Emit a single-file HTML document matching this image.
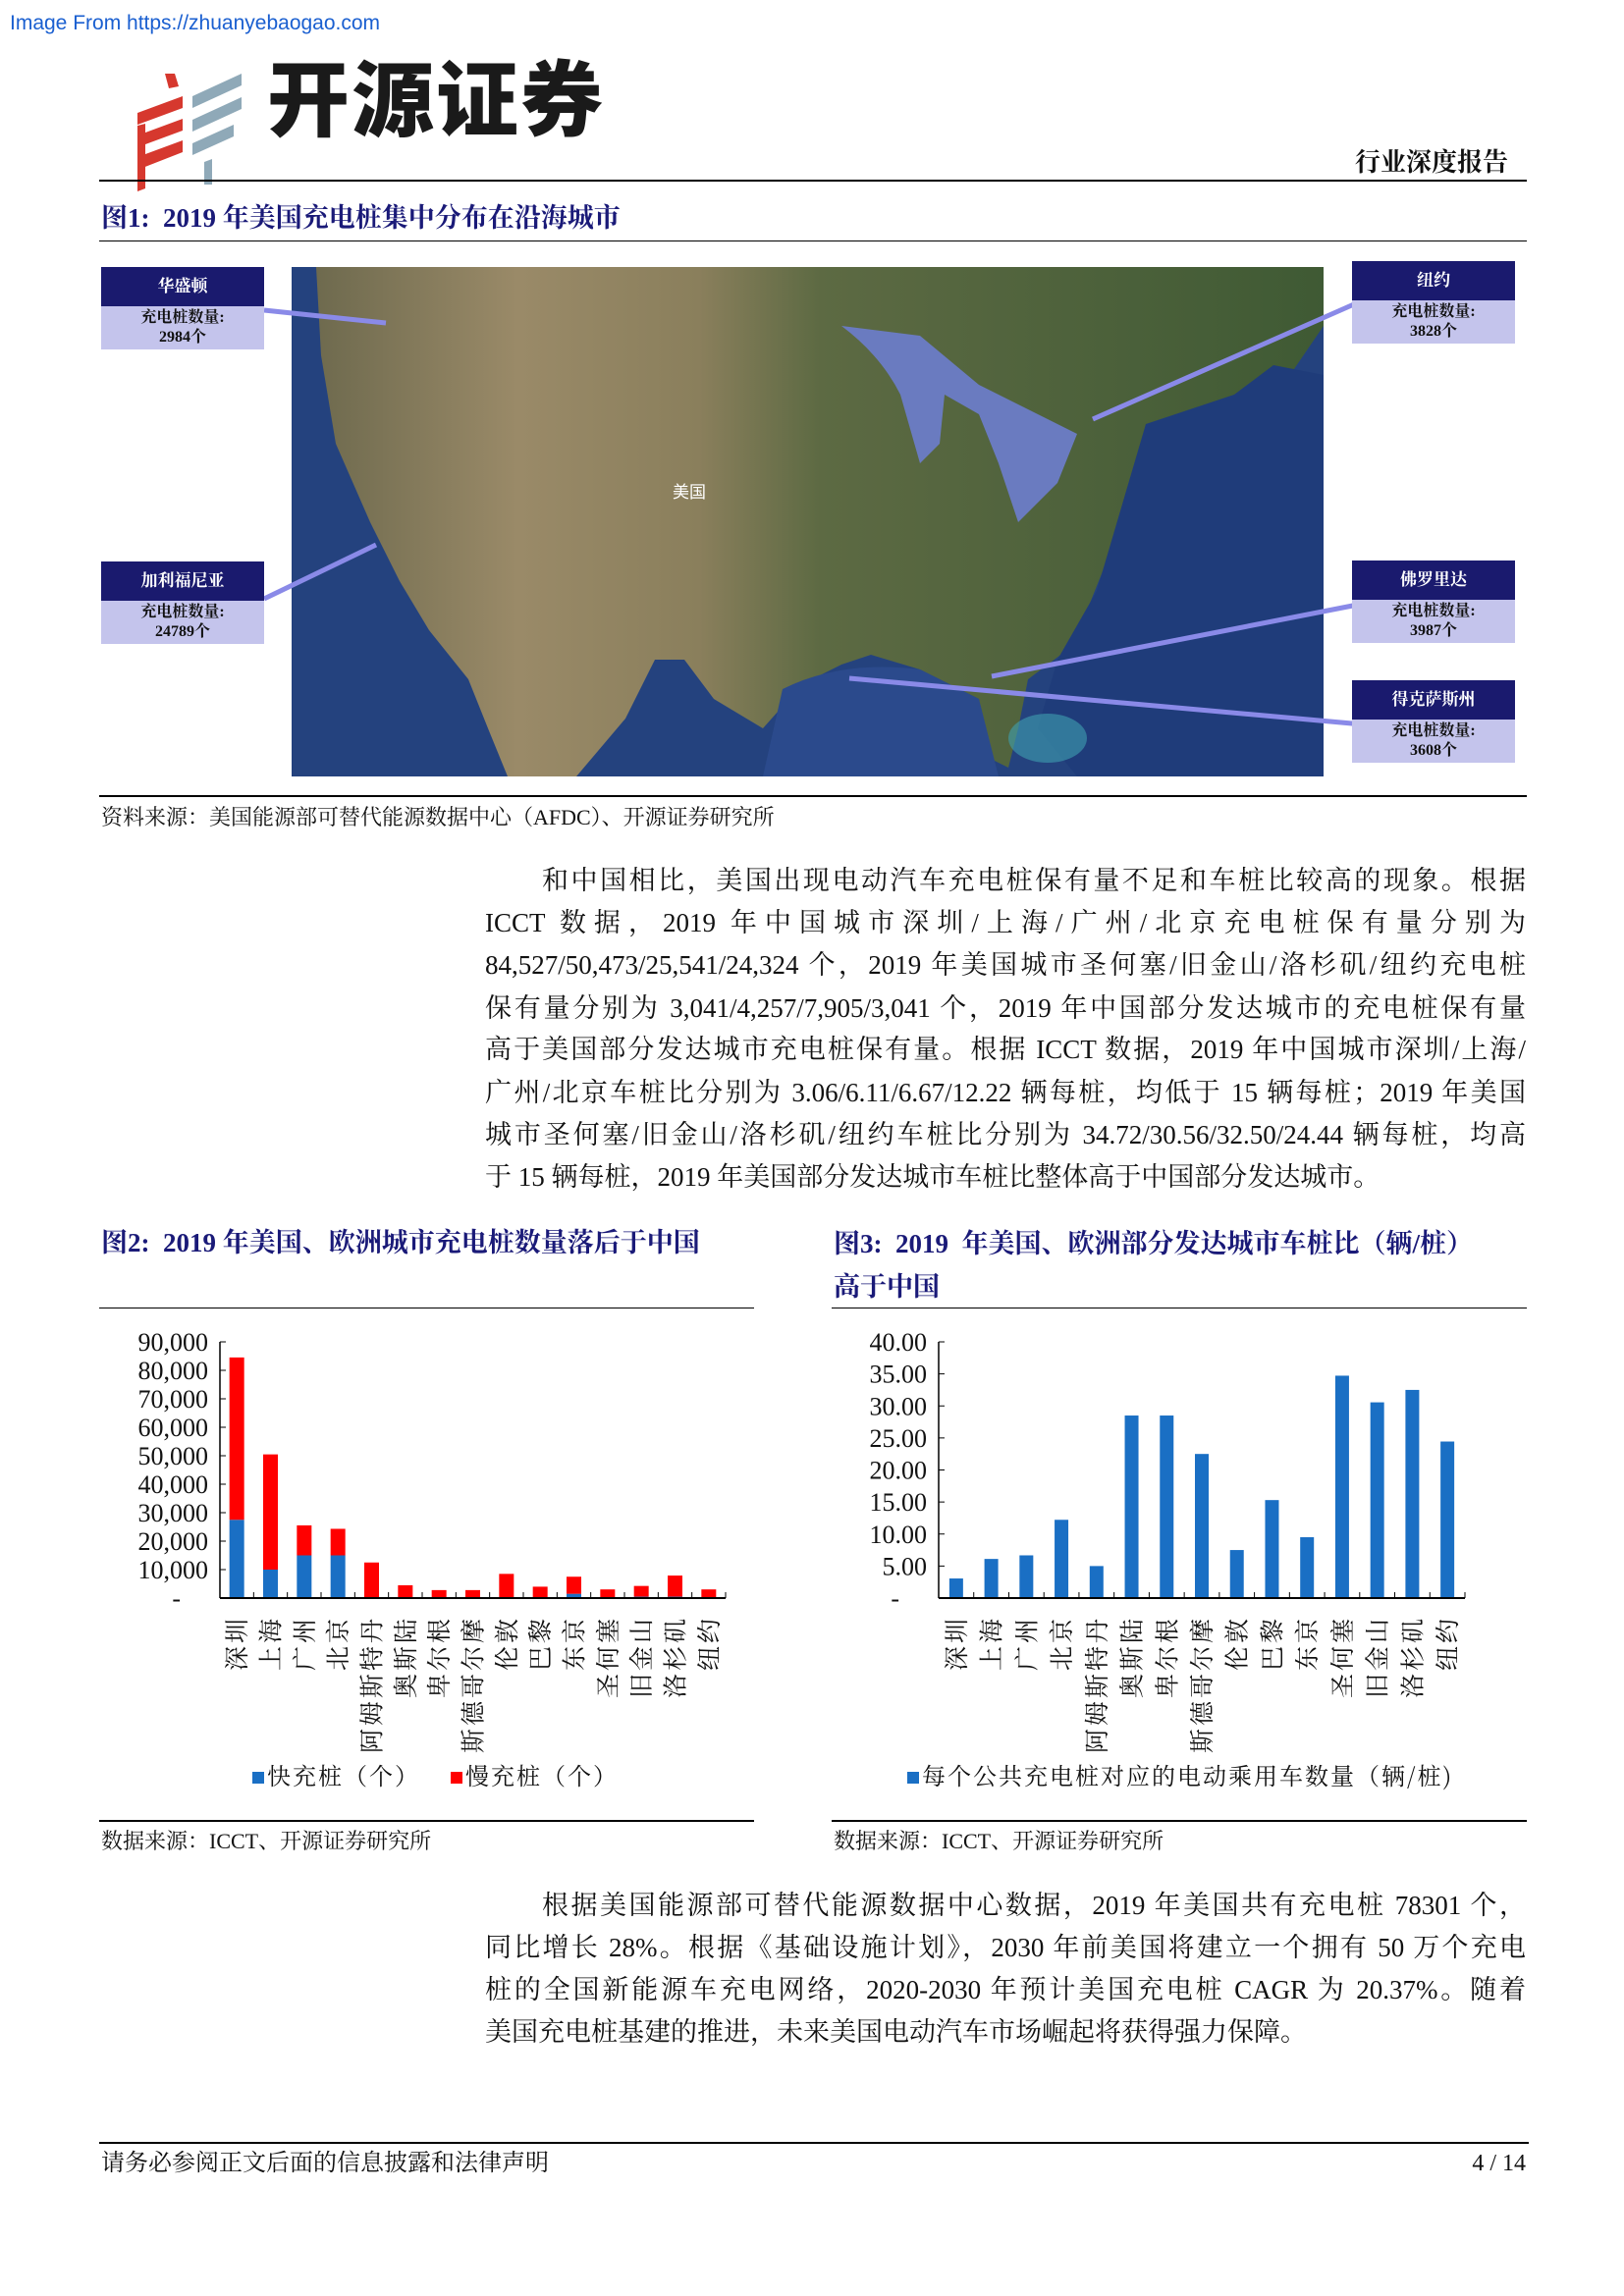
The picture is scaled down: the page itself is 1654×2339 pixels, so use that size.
<!DOCTYPE html>
<html><head><meta charset="utf-8">
<style>
html,body{margin:0;padding:0;background:#fff;}
body{width:1654px;height:2339px;position:relative;overflow:hidden;font-family:"Liberation Serif","Noto Serif CJK SC",serif;color:#111;}
.abs{position:absolute;}
.line{position:absolute;background:#000;}
.title{position:absolute;font-weight:bold;color:#1a1a78;font-size:27px;font-family:"Liberation Serif","Noto Serif CJK SC",serif;white-space:nowrap;line-height:1;}
.src{position:absolute;font-size:22px;white-space:nowrap;line-height:1;}
.pl{position:absolute;left:494px;width:1060px;font-size:27px;line-height:1;white-space:nowrap;text-align:justify;text-align-last:justify;}
.box{position:absolute;width:166px;}
.box .h{background:#1a1a6e;color:#fff;font-weight:bold;font-size:17px;text-align:center;height:40px;line-height:40px;}
.box .b{background:#c4c4ec;color:#111;font-weight:bold;font-size:16px;text-align:center;height:42px;line-height:20px;padding-top:2px;}
</style></head>
<body>
<div class="abs" style="left:10px;top:12px;font-family:'Liberation Sans',sans-serif;font-size:21px;color:#1a5fd0;">Image From https://zhuanyebaogao.com</div>

<svg class="abs" style="left:138px;top:70px" width="110" height="125" viewBox="0 0 110 125">
 <g fill="#d6382e"><polygon points="30,5 40,5 44,18 34,20"/><polygon points="2,45 48,28 48,40 2,57"/><polygon points="2,68 48,51 48,63 2,80"/><polygon points="2,90 48,73 48,85 2,103"/><polygon points="2,58 10,56 10,122 2,125"/></g>
 <g fill="#8fa9b8"><polygon points="58,28 108,5 108,17 58,40"/><polygon points="58,52 108,29 108,41 58,64"/><polygon points="58,76 100,57 100,69 58,88"/><polygon points="70,95 78,92 78,118 70,118"/></g>
</svg>
<div class="abs" style="left:272px;top:55px;font-family:'Noto Sans CJK SC',sans-serif;font-weight:900;font-size:84px;line-height:1;color:#1a1a1a;letter-spacing:2px;">开源证券</div>
<div class="abs" style="left:1380px;top:153px;font-size:26px;font-weight:bold;line-height:1;">行业深度报告</div>
<div class="line" style="left:101px;top:183px;width:1454px;height:2px;"></div>

<div class="title" style="left:103px;top:209px;">图1:&nbsp; 2019 年美国充电桩集中分布在沿海城市</div>
<div class="line" style="left:101px;top:245px;width:1454px;height:1px;"></div>

<svg class="abs" style="left:297px;top:272px" width="1051" height="519" viewBox="0 0 1051 519">
 <defs>
  <linearGradient id="land" x1="0" x2="1" y1="0" y2="0"><stop offset="0" stop-color="#6e6a4e"/><stop offset="0.2" stop-color="#9a8a68"/><stop offset="0.38" stop-color="#8a7f5c"/><stop offset="0.5" stop-color="#5d6a43"/><stop offset="1" stop-color="#3f5a34"/></linearGradient>
 </defs>
 <rect width="1051" height="519" fill="#24427e"/>
 <polygon fill="url(#land)" points="25,0 1051,0 1051,60 1010,120 900,170 860,220 830,300 810,350 790,390 750,420 740,470 730,510 710,500 700,440 640,410 590,395 560,405 520,425 480,470 430,440 400,400 370,400 340,460 290,519 220,519 200,470 180,420 140,370 110,320 80,260 45,180 30,90"/>
 <path d="M560,60 Q600,90 620,130 L640,200 L660,180 L665,130 L700,150 L720,200 L740,260 L780,220 L800,170 L760,150 L700,120 L640,70 Z" fill="#6a7bc0"/>
 <path d="M870,160 L960,130 L1000,100 L1051,110 L1051,519 L800,519 L760,470 L780,400 L820,330 Z" fill="#1f3c7a"/>
 <path d="M500,430 Q560,400 640,410 L700,440 L720,519 L480,519 Z" fill="#2b4a8c"/>
 <ellipse cx="770" cy="480" rx="40" ry="25" fill="#3fa0b0" opacity="0.6"/>
</svg>
<div class="abs" style="left:685px;top:487px;color:#fff;font-size:17px;font-family:'Noto Sans CJK SC',sans-serif;">美国</div>

<svg class="abs" style="left:0;top:0" width="1654" height="900">
 <g stroke="#8a8ae8" stroke-width="5" fill="none">
  <line x1="269" y1="316" x2="393" y2="329"/>
  <line x1="269" y1="610" x2="383" y2="555"/>
  <line x1="1388" y1="306" x2="1113" y2="427"/>
  <line x1="1388" y1="615" x2="1010" y2="689"/>
  <line x1="1388" y1="738" x2="865" y2="691"/>
 </g>
</svg>

<div class="box" style="left:103px;top:272px;"><div class="h">华盛顿</div><div class="b">充电桩数量:<br>2984个</div></div>
<div class="box" style="left:103px;top:572px;"><div class="h">加利福尼亚</div><div class="b">充电桩数量:<br>24789个</div></div>
<div class="box" style="left:1377px;top:266px;"><div class="h">纽约</div><div class="b">充电桩数量:<br>3828个</div></div>
<div class="box" style="left:1377px;top:571px;"><div class="h">佛罗里达</div><div class="b">充电桩数量:<br>3987个</div></div>
<div class="box" style="left:1377px;top:693px;"><div class="h">得克萨斯州</div><div class="b">充电桩数量:<br>3608个</div></div>

<div class="line" style="left:101px;top:810px;width:1454px;height:2px;"></div>
<div class="src" style="left:103px;top:822px;">资料来源：美国能源部可替代能源数据中心（AFDC）、开源证券研究所</div>

<div>
<div class="pl" style="top:884px;padding-left:58px;width:1002px;">和中国相比，美国出现电动汽车充电桩保有量不足和车桩比较高的现象。根据</div>
<div class="pl" style="top:927px;">ICCT 数据，2019 年中国城市深圳/上海/广州/北京充电桩保有量分别为</div>
<div class="pl" style="top:970px;">84,527/50,473/25,541/24,324 个，2019 年美国城市圣何塞/旧金山/洛杉矶/纽约充电桩</div>
<div class="pl" style="top:1014px;">保有量分别为 3,041/4,257/7,905/3,041 个，2019 年中国部分发达城市的充电桩保有量</div>
<div class="pl" style="top:1056px;">高于美国部分发达城市充电桩保有量。根据 ICCT 数据，2019 年中国城市深圳/上海/</div>
<div class="pl" style="top:1100px;">广州/北京车桩比分别为 3.06/6.11/6.67/12.22 辆每桩，均低于 15 辆每桩；2019 年美国</div>
<div class="pl" style="top:1143px;">城市圣何塞/旧金山/洛杉矶/纽约车桩比分别为 34.72/30.56/32.50/24.44 辆每桩，均高</div>
<div class="pl" style="top:1186px;text-align-last:left;">于 15 辆每桩，2019 年美国部分发达城市车桩比整体高于中国部分发达城市。</div>
</div>

<div class="title" style="left:103px;top:1253px;">图2:&nbsp; 2019 年美国、欧洲城市充电桩数量落后于中国</div>
<div class="title" style="left:849px;top:1245px;line-height:44px;">图3:&nbsp; 2019&nbsp; 年美国、欧洲部分发达城市车桩比（辆/桩）<br>高于中国</div>
<div class="line" style="left:101px;top:1332px;width:667px;height:1px;"></div>
<div class="line" style="left:847px;top:1332px;width:708px;height:1px;"></div>

<svg class="abs" id="chart1" style="left:0;top:1330px" width="800" height="520"></svg>
<svg class="abs" id="chart2" style="left:840px;top:1330px" width="740" height="520"></svg>

<div class="line" style="left:101px;top:1854px;width:667px;height:2px;"></div>
<div class="line" style="left:847px;top:1854px;width:708px;height:2px;"></div>
<div class="src" style="left:103px;top:1865px;">数据来源：ICCT、开源证券研究所</div>
<div class="src" style="left:849px;top:1865px;">数据来源：ICCT、开源证券研究所</div>

<div>
<div class="pl" style="top:1928px;padding-left:58px;width:1002px;">根据美国能源部可替代能源数据中心数据，2019 年美国共有充电桩 78301 个，</div>
<div class="pl" style="top:1971px;">同比增长 28%。根据《基础设施计划》，2030 年前美国将建立一个拥有 50 万个充电</div>
<div class="pl" style="top:2014px;">桩的全国新能源车充电网络，2020-2030 年预计美国充电桩 CAGR 为 20.37%。随着</div>
<div class="pl" style="top:2057px;text-align-last:left;">美国充电桩基建的推进，未来美国电动汽车市场崛起将获得强力保障。</div>
</div>

<div class="line" style="left:101px;top:2182px;width:1456px;height:2px;"></div>
<div class="abs" style="left:103px;top:2192px;font-size:24px;line-height:1;">请务必参阅正文后面的信息披露和法律声明</div>
<div class="abs" style="left:1470px;top:2192px;width:84px;text-align:right;font-size:24px;line-height:1;">4 / 14</div>

<script>
const cities = ["深圳","上海","广州","北京","阿姆斯特丹","奥斯陆","卑尔根","斯德哥尔摩","伦敦","巴黎","东京","圣何塞","旧金山","洛杉矶","纽约"];
const fastChargers = [27500,10000,15000,15000,0,0,0,0,0,0,1500,0,500,500,0];
const slowChargers = [57027,40473,10541,9324,12500,4500,2800,2800,8500,4000,6000,3041,3757,7405,3041];
const countTicks = ["-","10,000","20,000","30,000","40,000","50,000","60,000","70,000","80,000","90,000"];
const countTickValues = [0,10000,20000,30000,40000,50000,60000,70000,80000,90000];
const ratioValues = [3.06,6.11,6.67,12.22,5.0,28.5,28.5,22.5,7.5,15.3,9.5,34.72,30.56,32.5,24.44];
const ratioTicks = ["-","5.00","10.00","15.00","20.00","25.00","30.00","35.00","40.00"];
const ratioTickValues = [0,5,10,15,20,25,30,35,40];

const NS="http://www.w3.org/2000/svg";
function mk(parent,tag,attrs){const e=document.createElementNS(NS,tag);for(const k in attrs)e.setAttribute(k,attrs[k]);parent.appendChild(e);return e;}

function drawChart(svg,opt){
  const x0=opt.x0,x1=opt.x1,y0=opt.y0,yTop=opt.yTop,max=opt.max;
  const n=cities.length,bw=(x1-x0)/n;
  const ys=v=>y0-(v/max)*(y0-yTop);
  const xs=i=>x0+bw*i+bw/2;
  const ya=mk(svg,"line",{x1:x0,y1:yTop,x2:x0,y2:y0,stroke:"#000","stroke-width":1.5});
  
  
  opt.tickValues.forEach((v,i)=>{
    const t=mk(svg,"line",{x1:x0,y1:ys(v),x2:x0+6,y2:ys(v),stroke:"#000","stroke-width":1});
    
    
    const lb=mk(svg,"text",{x:x0-12,y:ys(v)+9,"text-anchor":"end","font-size":26,"font-family":"Liberation Serif,serif",fill:"#111"});
    lb.textContent=opt.ticks[i];
    
    
    if(i===0){lb.setAttribute("x",x0-40);}
  });
  for(let i=0;i<=n;i++){
    const t=mk(svg,"line",{x1:x0+bw*i,y1:y0,x2:x0+bw*i,y2:y0-6,stroke:"#000","stroke-width":1});
    
    
  }
  opt.series.forEach(s=>{
    s.values.forEach((v,i)=>{
      const base=s.base?s.base[i]:0;
      if(v<=0)return;
      const r=mk(svg,"rect",{x:xs(i)-opt.barW/2,y:ys(base+v),width:opt.barW,height:ys(base)-ys(base+v),fill:s.color});
      
      
    });
  });
  const xa=mk(svg,"line",{x1:x0,y1:y0,x2:x1,y2:y0,stroke:"#000","stroke-width":2});
  
  
  cities.forEach((c,i)=>{
    const cx=xs(i)+9, cy=y0+18;
    const g=mk(svg,"text",{x:cx,y:cy,"font-size":25,"letter-spacing":3,"font-family":"Noto Serif CJK SC,serif",fill:"#111","text-anchor":"end",transform:"rotate(-90 "+cx+" "+cy+")"});
    g.textContent=c;
    
    
  });
}

const c1=document.getElementById("chart1");
drawChart(c1,{x0:224,x1:739,y0:298,yTop:37,max:90000,barW:15,ticks:countTicks,tickValues:countTickValues,
  series:[{name:"fast",values:fastChargers,color:"#1a6fc4"},{name:"slow",values:slowChargers,base:fastChargers,color:"#ff0000"}]});
const c2=document.getElementById("chart2");
drawChart(c2,{x0:116,x1:652,y0:298,yTop:37,max:40,barW:14,ticks:ratioTicks,tickValues:ratioTickValues,
  series:[{name:"ratio",values:ratioValues,color:"#1a6fc4"}]});

function legend(svg,x,color,label){
  const r=mk(svg,"rect",{x:x,y:475,width:12,height:12,fill:color});
  
  
  const t=mk(svg,"text",{x:x+15,y:488,"font-size":24,"letter-spacing":2,"font-family":"Noto Serif CJK SC,serif",fill:"#111"});
  t.textContent=label;
  
  
}
legend(c1,257,"#1a6fc4","快充桩（个）");
legend(c1,459,"#ff0000","慢充桩（个）");
legend(c2,84,"#1a6fc4","每个公共充电桩对应的电动乘用车数量（辆/桩)");
</script>
</body></html>
